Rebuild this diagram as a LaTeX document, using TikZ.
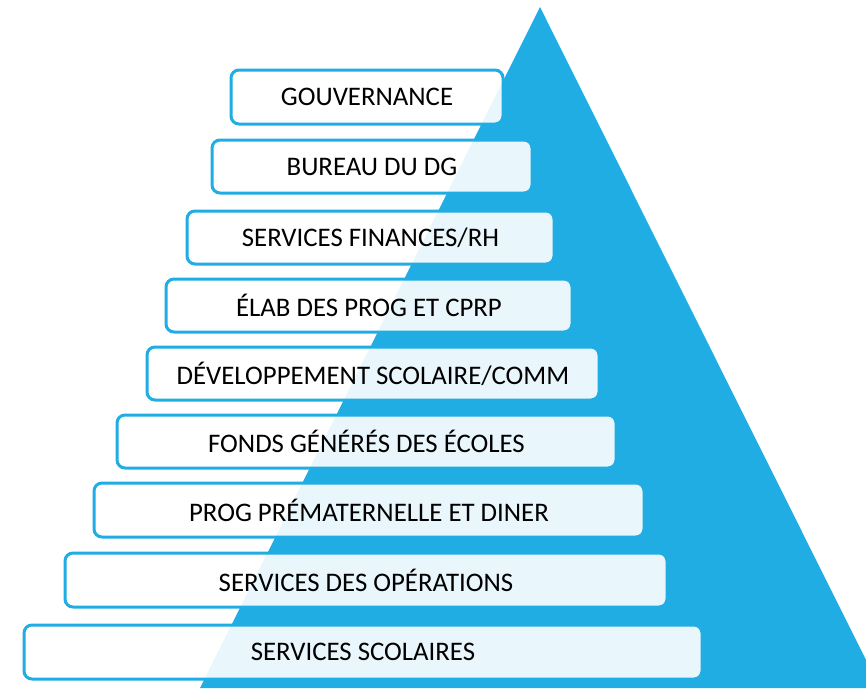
\documentclass[tikz,border=0pt]{standalone}
\usepackage{fontspec}
\setmainfont{Carlito}
\definecolor{pblue}{HTML}{1FADE3}
\begin{document}
\begin{tikzpicture}[x=1pt,y=-1pt,
  lvl/.style={draw=pblue, line width=3pt, rounded corners=8pt, fill=white, fill opacity=0.9, text opacity=1, text=black, inner sep=0pt, font=\fontsize{26.8}{31}\selectfont}]
\useasboundingbox (0,0) rectangle (866,688);
\clip (0,0) rectangle (866,688);
\fill[pblue] (540,7) -- (200,688) -- (880,688) -- cycle;
\def\lv#1#2#3#4#5#6{\node[lvl, minimum width=#3-#2, minimum height=#5-#4] (#1) at ({(#2+#3)/2},{(#4+#5)/2}) {#6};}
\lv{b1}{231}{503}{70}{124}{GOUVERNANCE}
\lv{b2}{212}{532}{140}{193}{BUREAU DU DG}
\lv{b3}{187}{554}{211}{264}{SERVICES FINANCES/RH}
\lv{b4}{166}{572}{279}{332}{ÉLAB DES PROG ET CPRP}
\lv{b5}{147}{599}{347}{400}{DÉVELOPPEMENT SCOLAIRE/COMM}
\lv{b6}{117}{616}{415}{468}{FONDS GÉNÉRÉS DES ÉCOLES}
\lv{b7}{94}{644}{483}{537}{PROG PRÉMATERNELLE ET DINER}
\lv{b8}{65}{667}{553}{607}{SERVICES DES OPÉRATIONS}
\lv{b9}{24}{702}{625}{679}{SERVICES SCOLAIRES}
\end{tikzpicture}
\end{document}
